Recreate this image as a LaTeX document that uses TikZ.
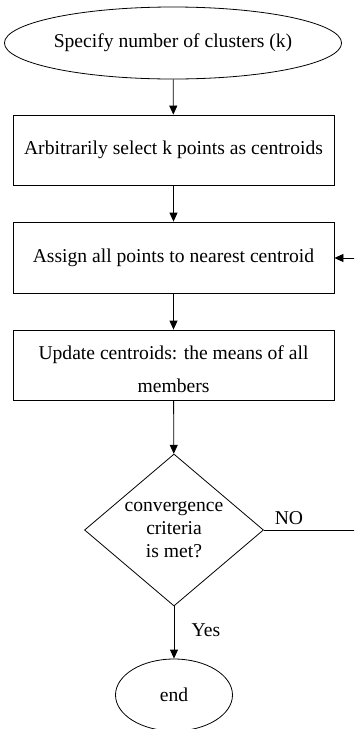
\documentclass[tikz,border=0pt]{standalone}
\usepackage{fontspec}
\setmainfont{Liberation Serif}
\usetikzlibrary{shapes.geometric,arrows.meta}
\begin{document}
\begin{tikzpicture}[x=1pt,y=-1pt,
  every node/.style={font=\fontsize{19.6}{23}\selectfont, inner sep=0pt},
  box/.style={draw, line width=0.8pt, minimum width=321pt, align=center},
  oval/.style={draw, ellipse, line width=0.8pt},
  arr/.style={line width=0.8pt, -{Triangle[width=8pt,length=9pt]}},
  ln/.style={line width=0.8pt}]
\useasboundingbox (0,0) rectangle (354,729);
\clip (0,0) rectangle (354,729);
\node[oval, minimum width=322pt, minimum height=72pt] (start) at (173,43) {Specify number of clusters (k)};
\node[box, minimum height=70pt] (b1) at (173.5,150) {Arbitrarily select k points as centroids};
\node[box, minimum height=71pt] (b2) at (173.5,257.5) {Assign all points to nearest centroid};
\node[box, minimum height=70pt] (b3) at (173.5,365) {};
\node[align=center, font=\fontsize{19.6}{33}\selectfont] (b3t) at (173.5,369) {Update centroids: the means of all\\members};
\node[draw, line width=0.8pt, shape=diamond, minimum width=179pt, minimum height=152pt, inner sep=0pt] (d) at (174,530) {};
\node[align=center, font=\fontsize{19.6}{23}\selectfont] (dt) at (174,530) {convergence\\criteria\\is met?};
\node[oval, minimum width=117pt, minimum height=72pt] (end) at (174,695) {end};
\coordinate (r1) at (360,530);
\coordinate (r2) at (360,258);
\node (no) at (289,518) {NO};
\node (yes) at (206,630) {Yes};
\draw[arr] (start) -- (b1);
\draw[arr] (b1) -- (b2);
\draw[arr] (b2) -- (b3);
\draw[arr] (b3) -- (d);
\draw[arr] (d) -- (end);
\draw[ln] (d.east) -- (r1) -- (r2);
\draw[arr] (r2) -- (b2.east |- r2);
\end{tikzpicture}
\end{document}
